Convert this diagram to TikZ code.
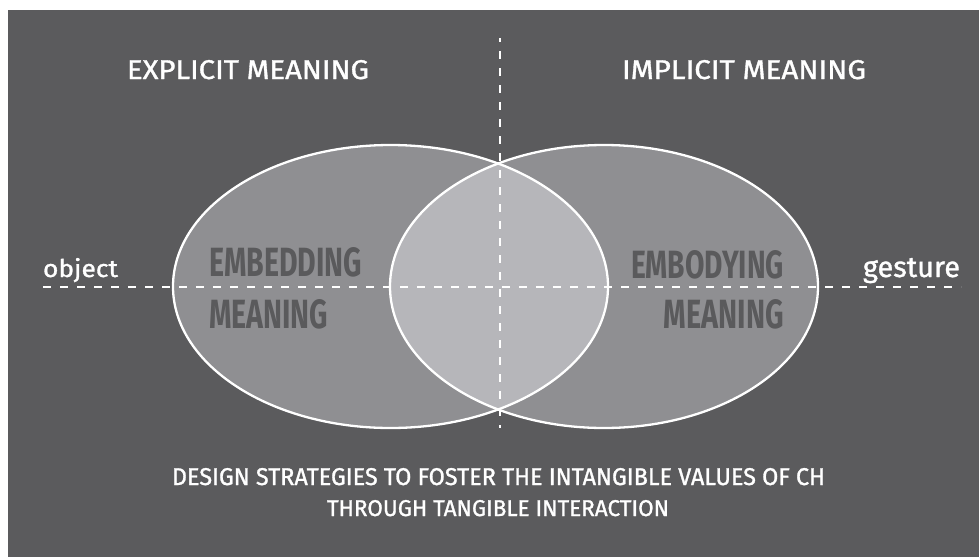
\documentclass[tikz,border=0pt]{standalone}
\usepackage{fontspec}
\usepackage{graphicx}
\setmainfont{Fira Sans}
\newfontfamily\medfont[FakeBold=1.2]{Fira Sans}
\usetikzlibrary{shapes.geometric}
\definecolor{bgdark}{RGB}{91,91,93}
\definecolor{ellgray}{RGB}{143,143,146}
\definecolor{lensgray}{RGB}{182,182,186}
\definecolor{labgray}{RGB}{90,90,92}
\tikzset{
  whitetext/.style={text=white, inner sep=0pt, outer sep=0pt, font=\medfont},
  innertext/.style={text=labgray, inner sep=0pt, outer sep=0pt, font=\rmfamily\bfseries},
  ringline/.style={draw=white, line width=2.3pt},
  guideline/.style={draw=white, line width=2pt, dash pattern=on 8pt off 9pt},
}
\begin{document}
\begin{tikzpicture}[x=1pt, y=-1pt]
\useasboundingbox (0,0) rectangle (979,557);
\fill[white] (0,0) rectangle (979,557);
\fill[bgdark] (8,10) rectangle (979,557);
% ellipses
\fill[ellgray] (390.5,286.5) ellipse [x radius=217.5, y radius=141.5];
\fill[ellgray] (604,286.5) ellipse [x radius=214, y radius=141.5];
\begin{scope}
  \clip (390.5,286.5) ellipse [x radius=217.5, y radius=141.5];
  \fill[lensgray] (604,286.5) ellipse [x radius=214, y radius=141.5];
\end{scope}
\node[ringline, ellipse, minimum width=435pt, minimum height=283pt, inner sep=0pt] (left) at (390.5,286.5) {};
\node[ringline, ellipse, minimum width=428pt, minimum height=283pt, inner sep=0pt] (right) at (604,286.5) {};
% guide lines
\coordinate (vtop) at (500,38);
\coordinate (vbot) at (500,428);
\coordinate (hleft) at (43,287);
\coordinate (hright) at (961,287);
\draw[guideline, dash phase=4pt] (vtop) -- (vbot);
\draw[guideline] (hleft) -- (hright);
% titles
\node[whitetext, anchor=base west] (explicit) at (127,79) {\resizebox{242pt}{19pt}{EXPLICIT MEANING}};
\node[whitetext, anchor=base west] (implicit) at (622,79) {\resizebox{244pt}{19pt}{IMPLICIT MEANING}};
\node[whitetext, anchor=base west] (object) at (43,277) {\resizebox{75pt}{19pt}{object}};
\node[whitetext, anchor=base east] (gesture) at (960,277) {\resizebox{97pt}{!}{gesture}};
% inner labels
\node[innertext, anchor=base west] (embedding) at (209,276) {\resizebox{153pt}{29pt}{EMBEDDING}};
\node[innertext, anchor=base west] (meaningL) at (209,328) {\resizebox{119pt}{29pt}{MEANING}};
\node[innertext, anchor=base west] (embodying) at (631,278) {\resizebox{153pt}{28pt}{EMBODYING}};
\node[innertext, anchor=base east] (meaningR) at (784,328) {\resizebox{120pt}{29pt}{MEANING}};
% bottom caption
\node[whitetext, anchor=base] (cap1) at (498.5,485) {\resizebox{653pt}{17pt}{DESIGN STRATEGIES TO FOSTER THE INTANGIBLE VALUES OF CH}};
\node[whitetext, anchor=base] (cap2) at (498,516) {\resizebox{342pt}{16pt}{THROUGH TANGIBLE INTERACTION}};
\end{tikzpicture}
\end{document}
